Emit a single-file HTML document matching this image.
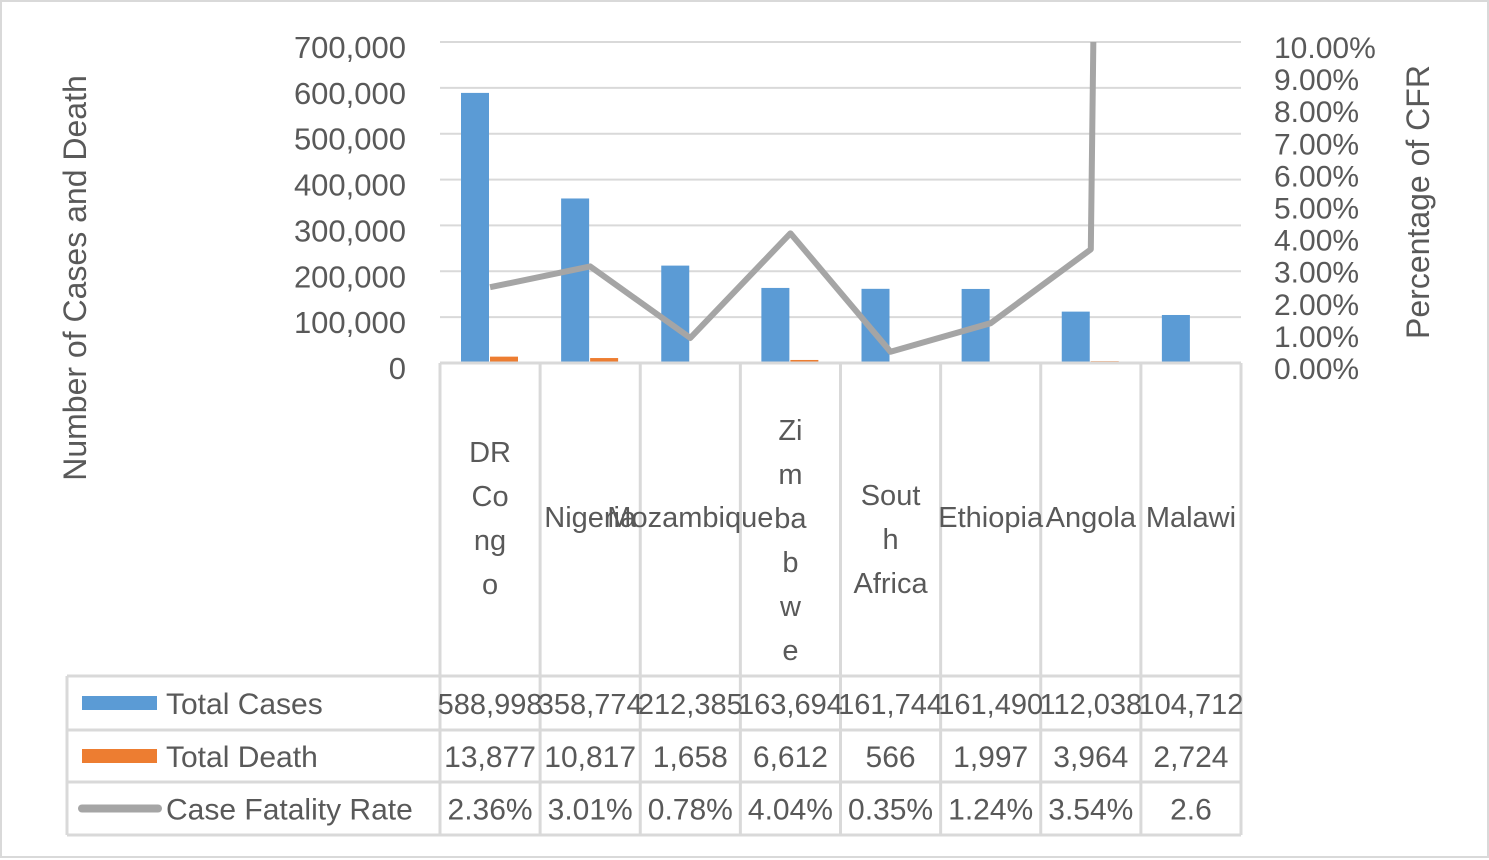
<!DOCTYPE html>
<html><head><meta charset="utf-8"><style>
html,body{margin:0;padding:0;background:#fff;}
svg{display:block;font-family:"Liberation Sans",sans-serif;}
</style></head><body>
<svg id="chart" width="1489" height="860" viewBox="0 0 1489 860">
<rect x="1" y="1" width="1487" height="856" fill="#fff" stroke="#d9d9d9" stroke-width="2"/>
<g id="grid"></g><g id="bars"></g><g id="line"></g><g id="axes"></g><g id="table"></g>
<text transform="translate(86,278) rotate(-90)" text-anchor="middle" font-size="32" fill="#595959">Number of Cases and Death</text>
<text transform="translate(1429,202) rotate(-90)" text-anchor="middle" font-size="32" fill="#595959">Percentage of CFR</text>
</svg>
<script>
const categories=["DR Congo","Nigeria","Mozambique","Zimbabwe","South Africa","Ethiopia","Angola","Malawi"];
const categoryLines=[["DR","Co","ng","o"],["Nigeria"],["Mozambique"],["Zi","m","ba","b","w","e"],["Sout","h","Africa"],["Ethiopia"],["Angola"],["Malawi"]];
const totalCases=[588998,358774,212385,163694,161744,161490,112038,104712];
const totalDeath=[13877,10817,1658,6612,566,1997,3964,2724];
const cfr=[2.36,3.01,0.78,4.04,0.35,1.24,3.54,260];
const cfrLabels=["2.36%","3.01%","0.78%","4.04%","0.35%","1.24%","3.54%","2.6"];
const leftTicks=[0,100000,200000,300000,400000,500000,600000,700000];
const rightTicks=[0,1,2,3,4,5,6,7,8,9,10];

const NS="http://www.w3.org/2000/svg";
const X0=440,X1=1241,Y0=363,Y1=42,n=categories.length,cw=(X1-X0)/n;
const yL=v=>Y0-(v/700000)*(Y0-Y1);
const yR=v=>Y0-(v/10)*(Y0-Y1);
const cx=i=>X0+cw*(i+0.5);
function el(t,a,p){const e=document.createElementNS(NS,t);for(const k in a)e.setAttribute(k,a[k]);p.appendChild(e);return e;}
const G=id=>document.getElementById(id);
const txt="#595959",gl="#d9d9d9";
leftTicks.forEach(v=>{if(v===0)return;const l=el('line',{x1:X0,x2:X1,y1:yL(v),y2:yL(v),stroke:gl,'stroke-width':2},G('grid'));

});
leftTicks.forEach(v=>{const t=el('text',{x:406,y:yL(v)+16,'text-anchor':'end','font-size':31,fill:txt},G('axes'));t.textContent=v.toLocaleString('en-US');

});
rightTicks.forEach(v=>{const t=el('text',{x:1274,y:yR(v)+16,'font-size':30,fill:txt},G('axes'));t.textContent=v.toFixed(2)+'%';

});
categories.forEach((c,i)=>{const s=X0+cw*i;
const b=el('rect',{x:s+21,y:yL(totalCases[i]),width:28,height:Y0-yL(totalCases[i]),fill:'#5b9bd5'},G('bars'));


const d=el('rect',{x:s+50,y:yL(totalDeath[i]),width:28,height:Y0-yL(totalDeath[i]),fill:'#ed7d31'},G('bars'));

});
const cp=el('clipPath',{id:'pc'},G('line'));el('rect',{x:X0,y:Y1,width:X1-X0,height:Y0-Y1+10},cp);
const pl=el('polyline',{points:cfr.map((v,i)=>cx(i)+','+yR(v)).join(' '),fill:'none',stroke:'#a5a5a5','stroke-width':6,'stroke-linejoin':'round','clip-path':'url(#pc)'},G('line'));


const T=G('table');const rows=[676,730,782,835];
const hl=(x1,x2,y)=>{const l=el('line',{x1,x2,y1:y,y2:y,stroke:gl,'stroke-width':3},T);};
hl(X0,X1,Y0);rows.forEach(y=>hl(67,X1,y));
for(let i=0;i<=n;i++){const x=X0+cw*i;const l=el('line',{x1:x,x2:x,y1:Y0,y2:835,stroke:gl,'stroke-width':3},T);}
const lv=el('line',{x1:67,x2:67,y1:676,y2:835,stroke:gl,'stroke-width':3},T);
const labelTop=[452,517,517,430,495,517,517,517];
categories.forEach((c,i)=>{const lines=categoryLines[i];const lh=44;const top=labelTop[i];
const t=el('text',{'text-anchor':'middle','font-size':29,fill:txt},T);


lines.forEach((s,k)=>{const sp=el('tspan',{x:cx(i),y:top+k*lh+10},t);sp.textContent=s;});});
const rowData=[totalCases.map(v=>v.toLocaleString('en-US')),totalDeath.map(v=>v.toLocaleString('en-US')),cfrLabels];
const rowNames=["Total Cases","Total Death","Case Fatality Rate"];
rowData.forEach((r,ri)=>{const yc=(rows[ri]+rows[ri+1])/2;
r.forEach((s,i)=>{const t=el('text',{x:cx(i),y:yc+11,'text-anchor':'middle','font-size':ri===0?29:30,fill:txt},T);t.textContent=s;

});
const lt=el('text',{x:166,y:yc+11,'font-size':30,fill:txt},T);lt.textContent=rowNames[ri];


let k;
if(ri<2){k=el('rect',{x:82,y:yc-7,width:75,height:14,fill:ri?'#ed7d31':'#5b9bd5'},T);}
else{k=el('line',{x1:82,x2:158,y1:yc,y2:yc,stroke:'#a5a5a5','stroke-width':8,'stroke-linecap':'round'},T);}

});
</script>
</body></html>
